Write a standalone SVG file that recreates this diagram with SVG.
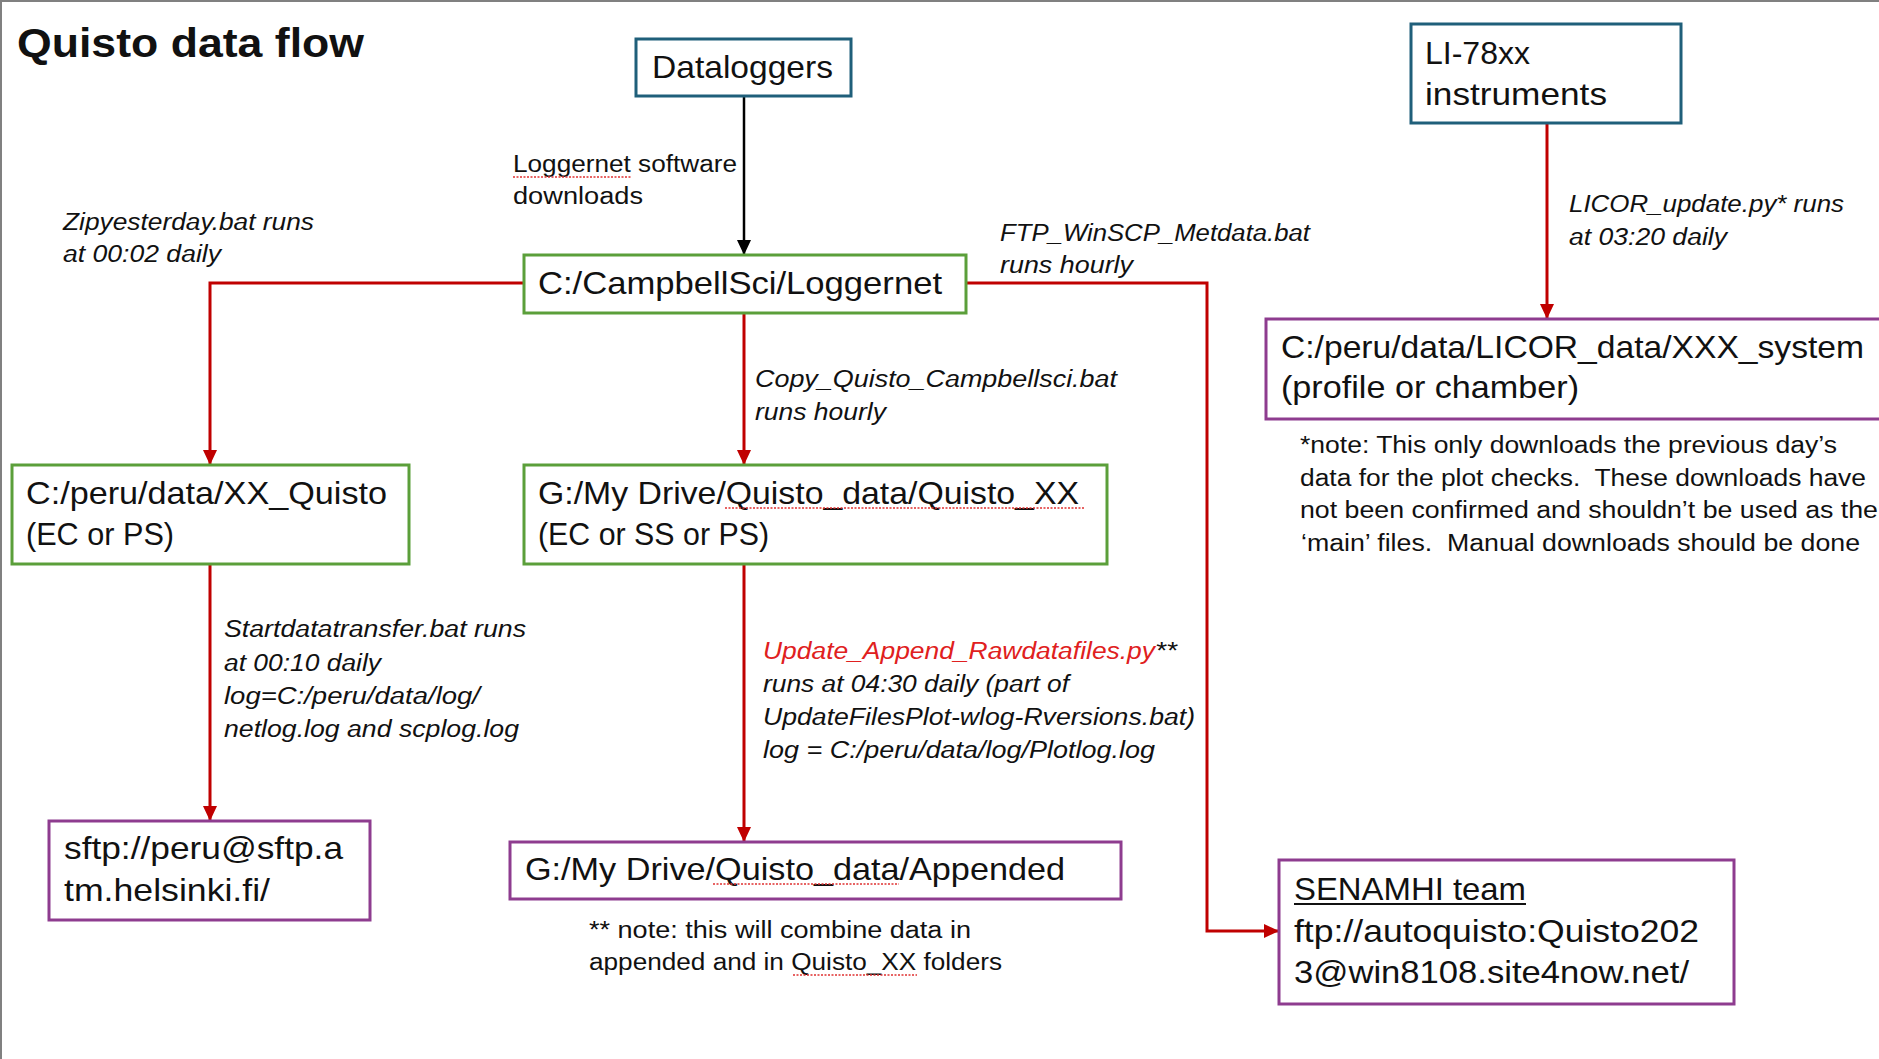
<svg xmlns="http://www.w3.org/2000/svg" width="1879" height="1059" viewBox="0 0 1879 1059">
<defs>
<style>
text{font-family:"Liberation Sans",Arial,sans-serif;fill:#111;}
.title{font-size:40px;font-weight:bold;}
.bt{font-size:32px;}
.lb{font-size:23.5px;font-style:italic;}
.lbn{font-size:23.5px;}
.note{font-size:23.5px;white-space:pre;}
.teal{fill:#fff;stroke:#1F5F7A;stroke-width:3;}
.green{fill:#fff;stroke:#5B9F3A;stroke-width:3;}
.purple{fill:#fff;stroke:#8E3C8F;stroke-width:3;}
.red{fill:none;stroke:#C00000;stroke-width:3;}
.blk{fill:none;stroke:#000;stroke-width:2.5;}
.sq{fill:none;stroke:#E03030;stroke-width:1.3;stroke-dasharray:2 1.5;}
</style>
<marker id="ar" markerUnits="userSpaceOnUse" markerWidth="16" markerHeight="14" refX="15" refY="7" orient="auto">
<path d="M0,0 L15,7 L0,14 z" fill="#C00000"/>
</marker>
<marker id="ab" markerUnits="userSpaceOnUse" markerWidth="16" markerHeight="14" refX="15" refY="7" orient="auto">
<path d="M0,0 L15,7 L0,14 z" fill="#000"/>
</marker>
</defs>
<rect x="0" y="0" width="1879" height="1059" fill="#fff"/>
<path d="M1,1059 L1,1 L1879,1" fill="none" stroke="#808080" stroke-width="2"/>
<text class="title" x="17" y="57" textLength="347" lengthAdjust="spacingAndGlyphs">Quisto data flow</text>

<g id="connectors">
<path class="blk" d="M744,97 L744,255" marker-end="url(#ab)"/>
<path class="red" d="M524,283 L210,283 L210,465" marker-end="url(#ar)"/>
<path class="red" d="M744,313 L744,465" marker-end="url(#ar)"/>
<path class="red" d="M966,283 L1207,283 L1207,931 L1279,931" marker-end="url(#ar)"/>
<path class="red" d="M1547,123 L1547,319" marker-end="url(#ar)"/>
<path class="red" d="M210,564 L210,821" marker-end="url(#ar)"/>
<path class="red" d="M744,564 L744,842" marker-end="url(#ar)"/>
</g>

<g id="labels">
<text class="lbn" x="513" y="172" textLength="224" lengthAdjust="spacingAndGlyphs">Loggernet software</text>
<line class="sq" x1="513" y1="177" x2="632" y2="177"/>
<text class="lbn" x="513" y="204" textLength="130" lengthAdjust="spacingAndGlyphs">downloads</text>
<text class="lb" x="63" y="230" textLength="251" lengthAdjust="spacingAndGlyphs">Zipyesterday.bat runs</text>
<text class="lb" x="63" y="262" textLength="158" lengthAdjust="spacingAndGlyphs">at 00:02 daily</text>
<text class="lb" x="755" y="387" textLength="362" lengthAdjust="spacingAndGlyphs">Copy_Quisto_Campbellsci.bat</text>
<text class="lb" x="755" y="420" textLength="131" lengthAdjust="spacingAndGlyphs">runs hourly</text>
<text class="lb" x="1000" y="241" textLength="310" lengthAdjust="spacingAndGlyphs">FTP_WinSCP_Metdata.bat</text>
<text class="lb" x="1000" y="273" textLength="133" lengthAdjust="spacingAndGlyphs">runs hourly</text>
<text class="lb" x="1569" y="212" textLength="275" lengthAdjust="spacingAndGlyphs">LICOR_update.py* runs</text>
<text class="lb" x="1569" y="245" textLength="158" lengthAdjust="spacingAndGlyphs">at 03:20 daily</text>
<text class="lb" x="224" y="637" textLength="302" lengthAdjust="spacingAndGlyphs">Startdatatransfer.bat runs</text>
<text class="lb" x="224" y="671" textLength="157" lengthAdjust="spacingAndGlyphs">at 00:10 daily</text>
<text class="lb" x="224" y="704" textLength="256" lengthAdjust="spacingAndGlyphs">log=C:/peru/data/log/</text>
<text class="lb" x="224" y="737" textLength="295" lengthAdjust="spacingAndGlyphs">netlog.log and scplog.log</text>
<text class="lb" x="763" y="659" textLength="392" lengthAdjust="spacingAndGlyphs" style="fill:#E02020">Update_Append_Rawdatafiles.py</text>
<text class="lb" x="1155" y="659" textLength="22" lengthAdjust="spacingAndGlyphs">**</text>
<text class="lb" x="763" y="692" textLength="306" lengthAdjust="spacingAndGlyphs">runs at 04:30 daily (part of</text>
<text class="lb" x="763" y="725" textLength="432" lengthAdjust="spacingAndGlyphs">UpdateFilesPlot-wlog-Rversions.bat)</text>
<text class="lb" x="763" y="758" textLength="392" lengthAdjust="spacingAndGlyphs">log = C:/peru/data/log/Plotlog.log</text>
<text class="note" x="589" y="938" textLength="382" lengthAdjust="spacingAndGlyphs">** note: this will combine data in</text>
<text class="note" x="589" y="970" textLength="413" lengthAdjust="spacingAndGlyphs">appended and in Quisto_XX folders</text>
<line class="sq" x1="793" y1="975" x2="917" y2="975"/>
<text class="note" x="1300" y="453" textLength="537" lengthAdjust="spacingAndGlyphs">*note: This only downloads the previous day’s</text>
<text class="note" x="1300" y="486" textLength="566" lengthAdjust="spacingAndGlyphs">data for the plot checks.  These downloads have</text>
<text class="note" x="1300" y="518" textLength="578" lengthAdjust="spacingAndGlyphs">not been confirmed and shouldn’t be used as the</text>
<text class="note" x="1301" y="551" textLength="559" lengthAdjust="spacingAndGlyphs">‘main’ files.  Manual downloads should be done</text>
</g>

<g id="dataloggers">
<rect class="teal" x="636" y="39" width="215" height="57"/>
<text class="bt" x="652" y="78" textLength="181" lengthAdjust="spacingAndGlyphs">Dataloggers</text>
</g>
<g id="campbellsci">
<rect class="green" x="524" y="255" width="442" height="58"/>
<text class="bt" x="538" y="294" textLength="404" lengthAdjust="spacingAndGlyphs">C:/CampbellSci/Loggernet</text>
</g>
<g id="xx-quisto">
<rect class="green" x="12" y="465" width="397" height="99"/>
<text class="bt" x="26" y="504" textLength="361" lengthAdjust="spacingAndGlyphs">C:/peru/data/XX_Quisto</text>
<text class="bt" x="26" y="545" textLength="148" lengthAdjust="spacingAndGlyphs">(EC or PS)</text>
</g>
<g id="gdrive-quisto-xx">
<rect class="green" x="524" y="465" width="583" height="99"/>
<text class="bt" x="538" y="504" textLength="541" lengthAdjust="spacingAndGlyphs">G:/My Drive/Quisto_data/Quisto_XX</text>
<line class="sq" x1="725" y1="508" x2="1084" y2="508"/>
<text class="bt" x="538" y="545" textLength="231" lengthAdjust="spacingAndGlyphs">(EC or SS or PS)</text>
</g>
<g id="li78xx">
<rect class="teal" x="1411" y="24" width="270" height="99"/>
<text class="bt" x="1425" y="64" textLength="105" lengthAdjust="spacingAndGlyphs">LI-78xx</text>
<text class="bt" x="1425" y="105" textLength="182" lengthAdjust="spacingAndGlyphs">instruments</text>
</g>
<g id="licor-data">
<rect class="purple" x="1266" y="319" width="640" height="100"/>
<text class="bt" x="1281" y="358" textLength="583" lengthAdjust="spacingAndGlyphs">C:/peru/data/LICOR_data/XXX_system</text>
<text class="bt" x="1281" y="398" textLength="298" lengthAdjust="spacingAndGlyphs">(profile or chamber)</text>
</g>
<g id="sftp">
<rect class="purple" x="49" y="821" width="321" height="99"/>
<text class="bt" x="64" y="859" textLength="279" lengthAdjust="spacingAndGlyphs">sftp://peru@sftp.a</text>
<text class="bt" x="64" y="901" textLength="206" lengthAdjust="spacingAndGlyphs">tm.helsinki.fi/</text>
</g>
<g id="appended">
<rect class="purple" x="510" y="842" width="611" height="57"/>
<text class="bt" x="525" y="880" textLength="540" lengthAdjust="spacingAndGlyphs">G:/My Drive/Quisto_data/Appended</text>
<line class="sq" x1="713" y1="884" x2="899" y2="884"/>
</g>
<g id="senamhi">
<rect class="purple" x="1279" y="860" width="455" height="144"/>
<text class="bt" x="1294" y="900" textLength="232" lengthAdjust="spacingAndGlyphs">SENAMHI team</text>
<line x1="1294" y1="904" x2="1526" y2="904" stroke="#111" stroke-width="2"/>
<text class="bt" x="1294" y="942" textLength="405" lengthAdjust="spacingAndGlyphs">ftp://autoquisto:Quisto202</text>
<text class="bt" x="1294" y="983" textLength="395" lengthAdjust="spacingAndGlyphs">3@win8108.site4now.net/</text>
</g>
</svg>
